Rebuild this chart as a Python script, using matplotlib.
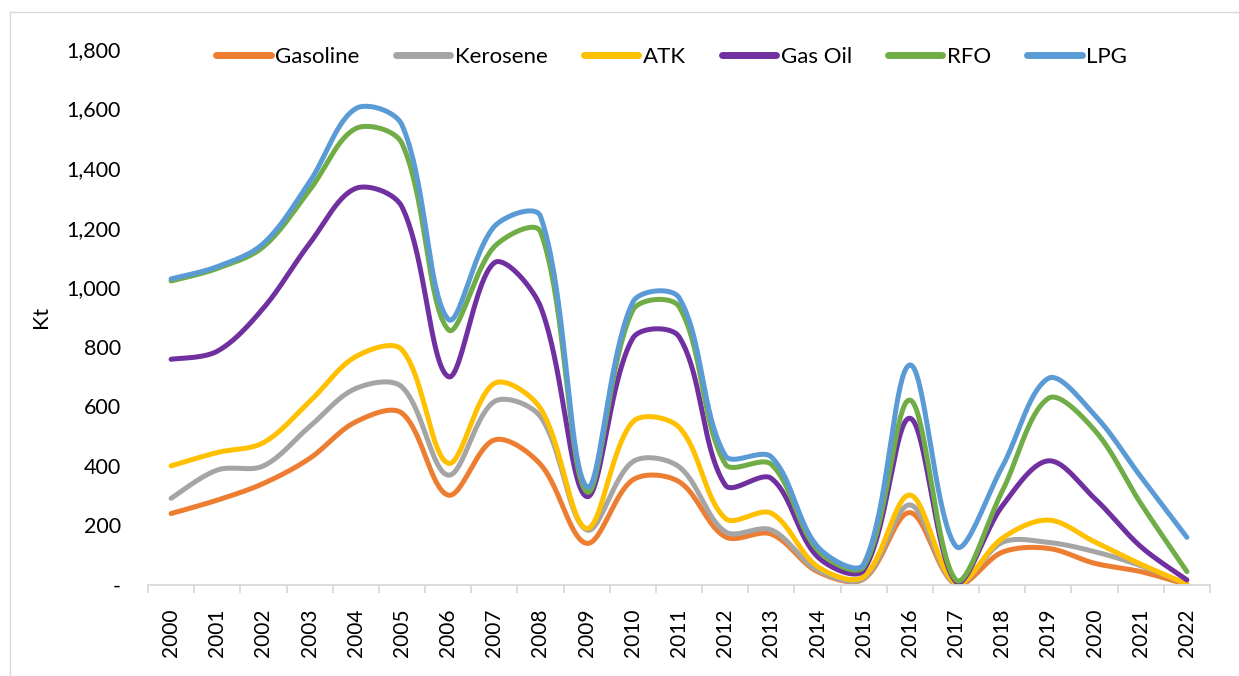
import numpy as np
import matplotlib
matplotlib.use("Agg")
import matplotlib.pyplot as plt
from matplotlib.ticker import FuncFormatter, FixedLocator

years = [str(y) for y in range(2000, 2023)]
products = ["Gasoline", "Kerosene", "ATK", "Gas Oil", "RFO", "LPG"]

# Kt per product (Excel stacked line chart)
gasoline = [240, 285, 341, 425, 548, 577, 302, 487, 405, 140, 353, 347, 162, 171, 45, 20, 243, 2, 110, 123, 73, 45, 1]
kerosene = [51, 101, 59, 107, 112, 88, 67, 129, 160, 45, 61, 50, 17, 14, 5, 2, 26, 1, 33, 20, 39, 20, 1]
atk = [109, 59, 78, 84, 107, 125, 40, 61, 28, 5, 134, 133, 45, 56, 12, 6, 33, 3, 14, 75, 33, 5, 1]
gas_oil = [358, 340, 452, 531, 565, 480, 291, 405, 342, 107, 281, 304, 112, 117, 33, 22, 258, 5, 108, 199, 146, 59, 14]
rfo = [263, 278, 206, 179, 201, 213, 158, 54, 251, 16, 94, 101, 71, 47, 23, 12, 61, 6, 50, 210, 229, 145, 28]
lpg = [7, 6, 11, 28, 67, 62, 35, 68, 52, 17, 27, 30, 28, 25, 11, 8, 118, 113, 82, 67, 51, 90, 115]

colors = ["#ED7D31", "#A5A5A5", "#FFC000", "#7030A0", "#70AD47", "#5B9BD5"]

PX_YEAR = 46.2     # screen pixels per category
PX_UNIT = 0.2978   # screen pixels per Kt


def smooth(x, y, t=1 / 3, n=40):
    # Excel-like smoothed line: Bezier segments, handles weighted by chord length on screen
    p = np.column_stack([np.asarray(x) * PX_YEAR, np.asarray(y) * PX_UNIT]).astype(float)
    m = len(p)
    tan = np.zeros_like(p)
    fa = np.zeros(m)
    fb = np.zeros(m)
    for i in range(m):
        if i == 0:
            tan[i] = p[1] - p[0]
            fb[i] = t / 2
        elif i == m - 1:
            tan[i] = p[-1] - p[-2]
            fa[i] = t / 2
        else:
            tan[i] = p[i + 1] - p[i - 1]
            d1 = np.hypot(*(p[i] - p[i - 1]))
            d2 = np.hypot(*(p[i + 1] - p[i]))
            fa[i] = t * d1 / (d1 + d2)
            fb[i] = t * d2 / (d1 + d2)
    s = np.linspace(0, 1, n)[:, None]
    out = []
    for i in range(m - 1):
        p1, p2 = p[i], p[i + 1]
        b1 = p1 + fb[i] * tan[i]
        b2 = p2 - fa[i + 1] * tan[i + 1]
        out.append(((1 - s) ** 3) * p1 + 3 * ((1 - s) ** 2) * s * b1 + 3 * (1 - s) * s ** 2 * b2 + s ** 3 * p2)
    out = np.vstack(out)
    return out[:, 0] / PX_YEAR, out[:, 1] / PX_UNIT


plt.rcParams["font.family"] = ["Lato", "DejaVu Sans"]

fig = plt.figure(figsize=(12.39, 6.76), dpi=100)
ax = fig.add_axes([148 / 1239, 1 - 585 / 676, (1210 - 148) / 1239, (585 - 49) / 676])

x = np.arange(len(years))
stack = np.cumsum(np.array([gasoline, kerosene, atk, gas_oil, rfo, lpg], dtype=float), axis=0)
for name, vals, c in zip(products, stack, colors):
    sx, sy = smooth(x, vals)
    ax.plot(sx, sy, color=c, lw=3.6, solid_capstyle="round", label=name)

ax.set_xlim(-0.5, len(years) - 0.5)
ax.set_ylim(0, 1800)
ax.set_yticks(np.arange(0, 1801, 200))
ax.yaxis.set_major_formatter(FuncFormatter(lambda v, _: "-" if v == 0 else f"{int(v):,}"))
ax.tick_params(axis="y", length=0, pad=19.5, labelsize=15.5, colors="#000000")

ax.set_xticks(x)
ax.set_xticklabels(years, rotation=90, fontsize=15)
ax.xaxis.set_minor_locator(FixedLocator(np.arange(-0.5, len(years), 1)))
ax.tick_params(axis="x", which="major", length=0, pad=17)
ax.tick_params(axis="x", which="minor", length=6, width=1.3, color="#D9D9D9")

for s in ["top", "right", "left"]:
    ax.spines[s].set_visible(False)
ax.spines["bottom"].set_color("#D9D9D9")
ax.spines["bottom"].set_linewidth(1.3)

ax.set_ylabel("Kt", fontsize=15.5, labelpad=11)

leg = ax.legend(loc="center", bbox_to_anchor=(0.493, 0.986), ncol=6, frameon=False,
                fontsize=16, handlelength=2.45, handletextpad=0.2, columnspacing=1.63)
for h in leg.get_lines():
    h.set_linewidth(5)
    h.set_solid_capstyle("round")

# outer chart border (left and top edges visible)
fig.add_artist(plt.Line2D([10 / 1239, 10 / 1239], [0, 1 - 12 / 676], transform=fig.transFigure, color="#D9D9D9", lw=1))
fig.add_artist(plt.Line2D([10 / 1239, 1], [1 - 12 / 676, 1 - 12 / 676], transform=fig.transFigure, color="#D9D9D9", lw=1))

fig.savefig("out.png", dpi=100)
